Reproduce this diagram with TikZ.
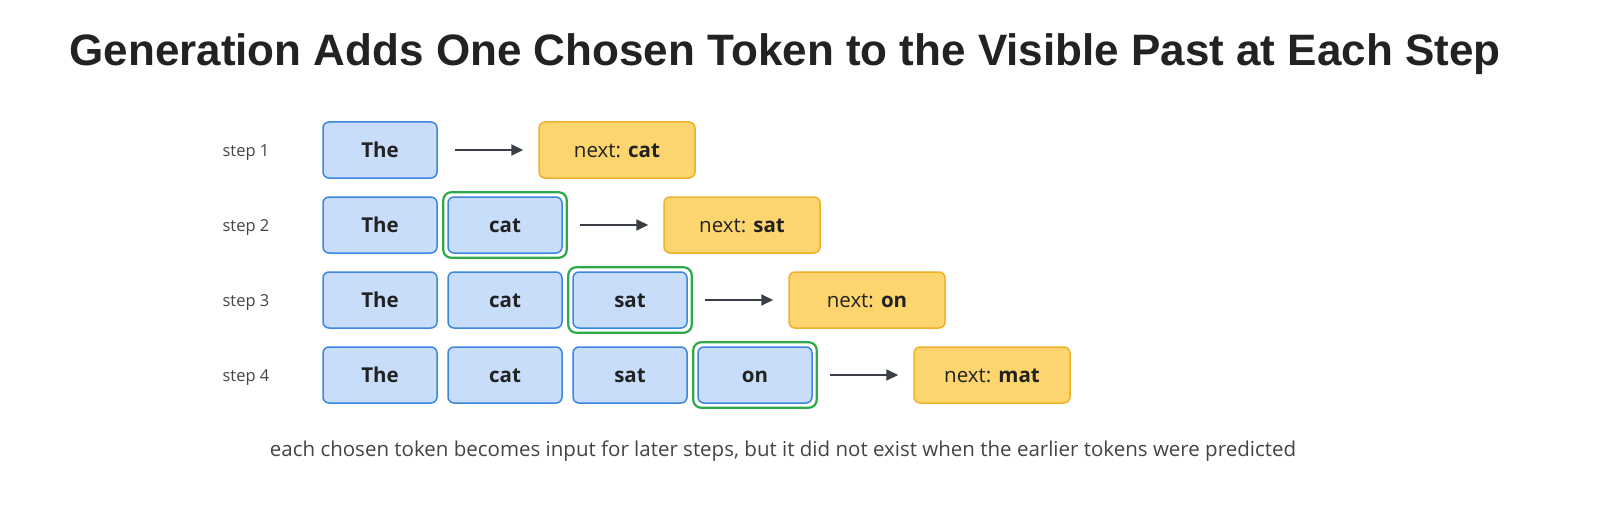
\documentclass[tikz,border=0pt]{standalone}
\usepackage{fontspec}
\setmainfont{Open Sans}
\newfontfamily\titlefont{Liberation Sans}
\usetikzlibrary{arrows.meta}
\definecolor{tokfill}{HTML}{C7DDF9}
\definecolor{tokdraw}{HTML}{3A86E0}
\definecolor{nxfill}{HTML}{FDD56E}
\definecolor{nxdraw}{HTML}{EFB12A}
\definecolor{grn}{HTML}{2DA84A}
\definecolor{arr}{HTML}{3A3F47}
\definecolor{txt}{HTML}{222222}
\definecolor{gry}{HTML}{444444}
\begin{document}
\begin{tikzpicture}[x=1pt,y=-1pt,
  tok/.style={draw=tokdraw,fill=tokfill,line width=1.5pt,rounded corners=6pt,minimum width=114pt,minimum height=56pt,inner sep=0pt,text height=15pt,text depth=0pt,font=\fontsize{20.5}{24}\selectfont\bfseries,text=txt},
  nxt/.style={draw=nxdraw,fill=nxfill,line width=1.5pt,rounded corners=6pt,minimum width=156pt,minimum height=56pt,inner sep=0pt,text height=15pt,text depth=0pt,font=\fontsize{20.5}{24}\selectfont,text=txt},
  hl/.style={draw=grn,line width=2.2pt,rounded corners=8pt},
  steplab/.style={font=\fontsize{16.5}{20}\selectfont,text=gry,text height=12pt,text depth=0pt},
  conn/.style={draw=arr,line width=1.8pt,-{Triangle[length=12pt,width=11pt]}}]
\useasboundingbox (0,0) rectangle (1600,508);
\node[font=\titlefont\fontsize{44}{52}\selectfont\bfseries,text=txt] (title) at (785,54) {Generation Adds One Chosen Token to the Visible Past at Each Step};
\def\words{{"The","cat","sat","on","mat"}}
\foreach \r/\nx in {1/cat,2/sat,3/on,4/mat}{
  \pgfmathsetmacro\yy{150+75*(\r-1)}
  \node[steplab] (s\r) at (246,\yy) {step \r};
  \foreach \c in {1,...,\r}{
    \pgfmathsetmacro\xx{380+125*(\c-1)}
    \pgfmathsetmacro\w{\words[\c-1]}
    \node[tok] (t\r\c) at (\xx,\yy) {\w};
  }
  \ifnum\r>1
    \draw[hl] ([shift={(-4pt,4pt)}]t\r\r.north west) rectangle ([shift={(4pt,-4pt)}]t\r\r.south east);
  \fi
  \pgfmathsetmacro\ax{455+125*(\r-1)}
  \pgfmathsetmacro\nxx{617+125*(\r-1)}
  \node[nxt] (n\r) at (\nxx,\yy) {next: \textbf{\nx}};
  \coordinate (a\r) at (\ax,\yy);
  \draw[conn] (a\r) -- ([xshift=-15pt]n\r.west);
}
\node[font=\fontsize{20.5}{24}\selectfont,text=gry] (cap) at (783,451) {each chosen token becomes input for later steps, but it did not exist when the earlier tokens were predicted};
\end{tikzpicture}
\end{document}
